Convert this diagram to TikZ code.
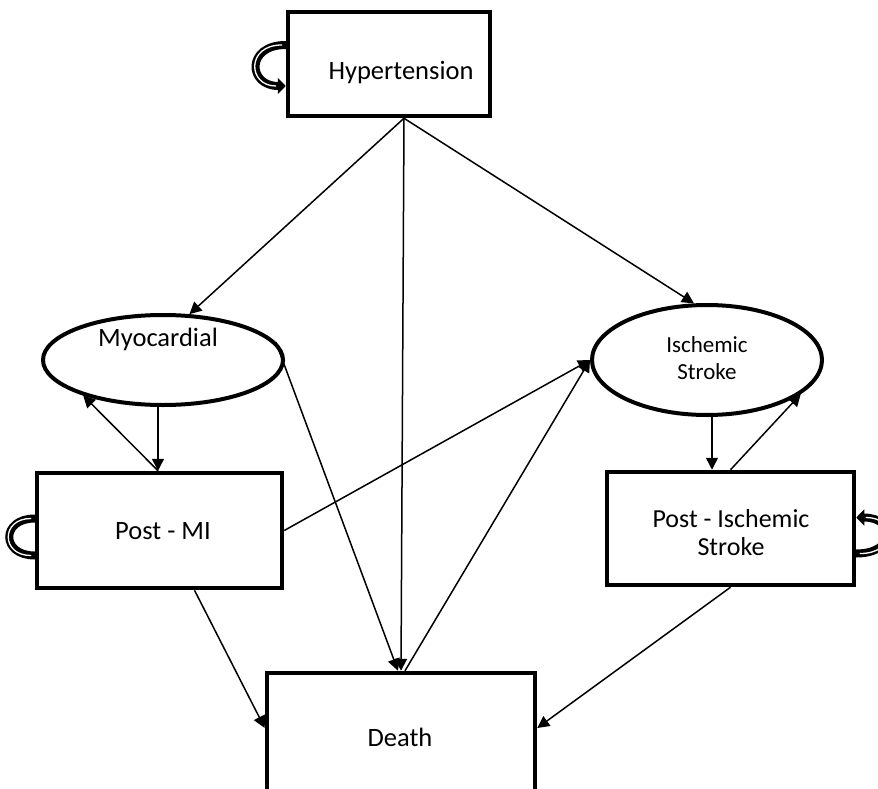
\documentclass[tikz,border=0pt]{standalone}
\usepackage{fontspec}
\setmainfont{Carlito}
\usetikzlibrary{shapes.geometric,arrows.meta}
\begin{document}
\begin{tikzpicture}[x=1pt,y=-1pt,
  boxnode/.style={draw, line width=4.5pt, rectangle, inner sep=0pt},
  ellnode/.style={draw, line width=4pt, ellipse, inner sep=0pt},
  lbl/.style={font=\fontsize{26.5}{30}\selectfont, inner sep=0pt, align=center},
  conn/.style={line width=1.5pt, -{Triangle[length=12pt,width=12pt]}},
  loopblack/.style={line width=8pt, line cap=round},
  loopwhite/.style={white, line width=1.3pt, line cap=round},
  looptip/.style={-{Triangle[length=8pt,width=16pt]}},
]
\useasboundingbox (0,0) rectangle (878,789);

% shapes
\node[boxnode, minimum width=202pt, minimum height=104pt] (hyp) at (389,64) {};
\node[ellnode, minimum width=240pt, minimum height=90pt] (myo) at (163,360) {};
\node[ellnode, minimum width=230pt, minimum height=110pt] (isc) at (707,360) {};
\node[boxnode, minimum width=245pt, minimum height=115pt] (pmi) at (159.5,530.5) {};
\node[boxnode, minimum width=247pt, minimum height=113pt] (pis) at (730.5,528.5) {};
\node[boxnode, minimum width=268pt, minimum height=128pt] (death) at (401,737) {};

% labels
\node[lbl] (hyptext) at (401,73) {Hypertension};
\node[lbl] (myotext) at (158,339) {Myocardial};
\node[lbl, font=\fontsize{23}{27}\selectfont] (isctext) at (707,358) {Ischemic\\Stroke};
\node[lbl] (pmitext) at (163,531) {Post - MI};
\node[lbl, font=\fontsize{26}{28}\selectfont] (pistext) at (731,533) {Post - Ischemic\\Stroke};
\node[lbl] (deathtext) at (400,737) {Death};

% connectors
\draw[conn] ([xshift=15pt]hyp.south) -- (myo.60);
\draw[conn] ([xshift=15pt]hyp.south) -- (death.north);
\draw[conn] ([xshift=15pt]hyp.south) -- (isc.103);
\draw[conn] (myo.9) -- ([xshift=-3pt]death.north);
\draw[conn] ([xshift=4pt]death.north) -- (isc.west);
\draw[conn] (pmi.east) -- (isc.west);
\draw[conn] ([xshift=-1.5pt]pmi.north |- myo.south) -- ([xshift=-1.5pt]pmi.north);
\draw[conn] ([xshift=-1.5pt]pmi.north) -- (myo.204);
\draw[conn] ([xshift=5pt]isc.south) -- ([xshift=-18.5pt]pis.north);
\draw[conn] (pis.north) -- (isc.340);
\draw[conn] ([xshift=35pt]pmi.south) -- ([yshift=9pt]death.west);
\draw[conn] (pis.south) -- ([yshift=9pt]death.east);

% self loops
\draw[loopblack, looptip] ([yshift=19pt]hyp.west) .. controls +(-40pt,0pt) and +(-38pt,0pt) .. ([yshift=-22pt]hyp.west);
\draw[loopwhite, shorten >=10pt, shorten <=4pt] ([yshift=19pt]hyp.west) .. controls +(-40pt,0pt) and +(-38pt,0pt) .. ([yshift=-22pt]hyp.west);

\draw[loopblack] ([yshift=12pt]pmi.west) .. controls +(-34pt,0pt) and +(-34pt,0pt) .. ([yshift=-25pt]pmi.west);
\draw[loopwhite, shorten >=4pt, shorten <=4pt] ([yshift=12pt]pmi.west) .. controls +(-34pt,0pt) and +(-34pt,0pt) .. ([yshift=-25pt]pmi.west);

\draw[loopblack, looptip] ([yshift=-25pt]pis.east) .. controls +(40pt,0pt) and +(40pt,0pt) .. ([yshift=11pt]pis.east);
\draw[loopwhite, shorten >=10pt, shorten <=4pt] ([yshift=-25pt]pis.east) .. controls +(40pt,0pt) and +(40pt,0pt) .. ([yshift=11pt]pis.east);
\end{tikzpicture}
\end{document}
